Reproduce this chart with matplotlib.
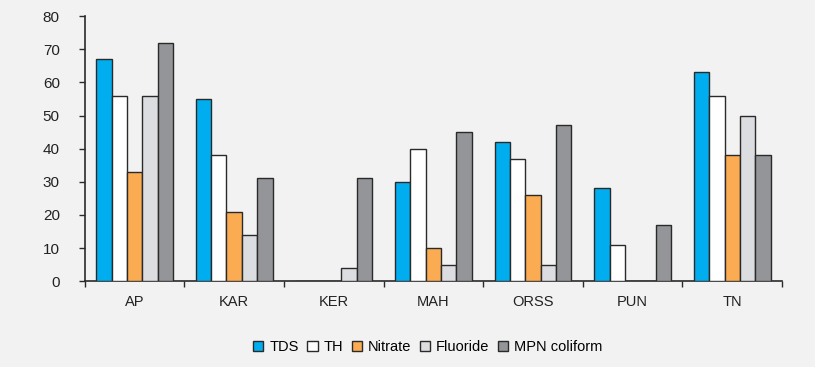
import numpy as np
import matplotlib.pyplot as plt

plt.rcParams['font.family'] = ['Liberation Sans', 'DejaVu Sans']

states = ["AP", "KAR", "KER", "MAH", "ORSS", "PUN", "TN"]
tds = [67, 55, 0, 30, 42, 28, 63]
th = [56, 38, 0, 40, 37, 11, 56]
nitrate = [33, 21, 0, 10, 26, 0, 38]
fluoride = [56, 14, 4, 5, 5, 0, 50]
mpn = [72, 31, 31, 45, 47, 17, 38]

series = [("TDS", tds, "#00aeef"), ("TH", th, "#ffffff"),
          ("Nitrate", nitrate, "#fbac52"), ("Fluoride", fluoride, "#dcdde0"),
          ("MPN coliform", mpn, "#939598")]

bg = "#f2f2f2"
fig = plt.figure(figsize=(8.15, 3.67), dpi=100, facecolor=bg)
ax = fig.add_axes([0.104, 0.234, 0.8555, 0.722], facecolor=bg)

x = np.arange(len(states))
w = 0.154
for i, (name, vals, col) in enumerate(series):
    ax.bar(x + (i - 2) * w, vals, w, color=col, edgecolor="#2a2a2a",
           linewidth=1.0, label=name, zorder=3)

ax.set_xlim(-0.5, len(states) - 0.5)
ax.set_ylim(0, 80)
ax.set_yticks(range(0, 81, 10))
ax.tick_params(axis='y', labelsize=11, length=4, width=1, color="#2a2a2a",
               labelcolor="#222222", pad=14)

# category labels centred, tick marks on the boundaries
ax.set_xticks(x)
ax.set_xticklabels(states, fontsize=10.5, color="#222222")
ax.tick_params(axis='x', length=0, pad=10)
ax.set_xticks(np.arange(len(states) + 1) - 0.5, minor=True)
ax.tick_params(axis='x', which='minor', length=4, width=1, color="#2a2a2a")

for s in ("top", "right"):
    ax.spines[s].set_visible(False)
for s in ("left", "bottom"):
    ax.spines[s].set_color("#2a2a2a")
    ax.spines[s].set_linewidth(1.2)

fig.legend(loc="lower center", bbox_to_anchor=(0.525, 0.0), ncol=5,
           frameon=False, fontsize=10.5, handlelength=0.7, handleheight=0.7,
           handletextpad=0.4, columnspacing=0.6)

plt.savefig("out.png", dpi=100, facecolor=bg)
